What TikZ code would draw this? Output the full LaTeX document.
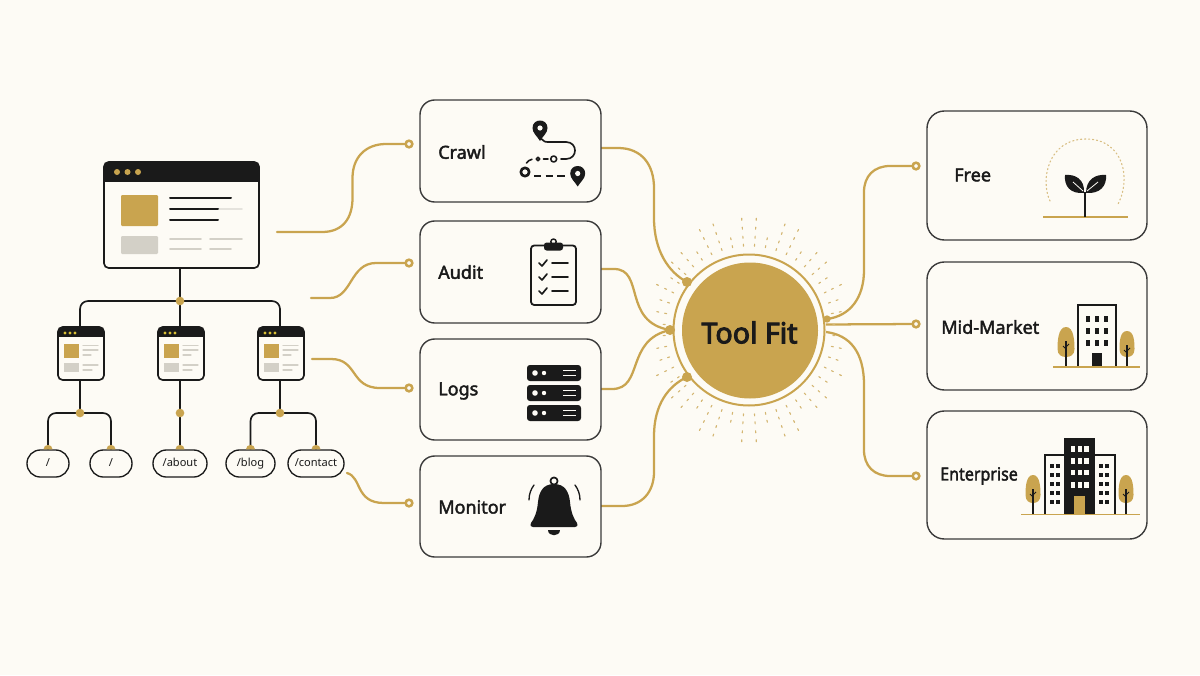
\documentclass[tikz,border=0pt]{standalone}
\usepackage{fontspec}
\usepackage{graphicx}
\setmainfont{Noto Sans}
\definecolor{paper}{HTML}{FDFBF5}
\definecolor{gold}{HTML}{C9A44F}
\definecolor{ink}{HTML}{1A1A1A}
\definecolor{edge}{HTML}{3A3A3A}
\definecolor{ash}{HTML}{D3D0C7}
% text with a thin outline of its own colour, for a medium weight
\newcommand{\weighted}[2]{\special{pdf:code 2 Tr #1 w}#2\special{pdf:code 0 Tr}}
\pgfdeclarelayer{under}
\pgfsetlayers{under,main}
\tikzset{
  x=0.75pt,y=-0.75pt,
  card/.style={draw=edge,line width=1.05pt,fill=paper,rounded corners=11pt,inner sep=0pt},
  cardtext/.style={anchor=west,inner sep=0pt,text=ink,font=\fontsize{13.5}{16}\selectfont},
  pill/.style={draw=ink,line width=1pt,fill=paper,rounded corners=10pt,minimum height=20.25pt,inner sep=0pt,text=ink,text height=6.2pt,text depth=1.8pt,font=\fontsize{8.3}{10}\selectfont},
  page/.style={draw=ink,line width=1.25pt,rounded corners=3.5pt,inner sep=0pt},
  tree line/.style={draw=ink,line width=1.25pt,rounded corners=6pt},
  gold line/.style={draw=gold,line width=1.7pt,line cap=round},
  hubdot/.style={circle,fill=gold,inner sep=0pt,minimum size=#1},
  socket/.style={circle,draw=gold,line width=1.9pt,fill=paper,inner sep=0pt,minimum size=5pt},
  bar/.style={line width=1.5pt,draw=ink,line cap=round},
  soft bar/.style={line width=1.4pt,draw=ash,line cap=round},
  icon/.style={draw=ink,line width=1.35pt,line cap=round,line join=round},
}
% small site page: header bar, three dots, two thumbnails and text rules
\newcommand{\smallpage}[2]{%
  \node[page,minimum width=34.5pt,minimum height=39.75pt,fill=paper] (#1) at (#2+23,353.5) {};
  \begin{scope}[shift={(#2,0)}]
    \begin{scope}
      \clip[rounded corners=3.5pt] (0,327) rectangle (46,380);
      \fill[ink] (0,327) rectangle (46,337);
    \end{scope}
    \fill[gold!70!yellow] (7,333) circle[radius=1.7] (12,333) circle[radius=1.7] (17,333) circle[radius=1.7];
    \fill[gold] (6,344) rectangle (21,358);
    \fill[ash] (6,363) rectangle (21,372);
    \draw[soft bar,line width=0.9pt] (25,345.5) -- (40,345.5) (25,350) -- (40,350) (25,355) -- (33,355)
      (25,365) -- (40,365) (25,370) -- (34,370);
  \end{scope}
}
% tree with a rounded crown and a forked trunk
\newcommand{\sapling}[5]{%
  \fill[gold] (#1,#2) .. controls (#1+0.95*#4,#2) and (#1+#4,#3-15) .. (#1+#4,#3-8)
    .. controls (#1+#4,#3-2) and (#1+0.5*#4,#3) .. (#1,#3)
    .. controls (#1-0.5*#4,#3) and (#1-#4,#3-2) .. (#1-#4,#3-8)
    .. controls (#1-#4,#3-15) and (#1-0.95*#4,#2) .. (#1,#2) -- cycle;
  \draw[ink,line width=1.1pt] (#1,#2+14) -- (#1,#5);
  \draw[ink,line width=0.7pt] (#1,#2+22) -- (#1-3,#2+19) (#1,#2+20) -- (#1+3,#2+17);
}
% map pin with a punched centre
\newcommand{\mappin}[2]{%
  \fill[ink] (#1-7.5,#2) .. controls (#1-7.5,#2-10) and (#1+7.5,#2-10) .. (#1+7.5,#2)
    .. controls (#1+7.5,#2+5) and (#1+3,#2+8) .. (#1,#2+13)
    .. controls (#1-3,#2+8) and (#1-7.5,#2+5) .. (#1-7.5,#2) -- cycle;
  \fill[paper] (#1,#2) circle[radius=2.6];
}
\newcommand{\rackunit}[1]{%
  \fill[ink,rounded corners=2.2pt] (527,#1) rectangle (581,#1+16);
  \fill[paper] (535,#1+8) circle[radius=2.8] (544,#1+8) circle[radius=2.2];
  \draw[paper,line width=0.9pt] (563,#1+5.5) -- (576,#1+5.5) (563,#1+10.5) -- (576,#1+10.5);
}
\newcommand{\tickrow}[1]{%
  \draw[icon,line width=1.25pt] (539,#1) -- (542,#1+3) -- (547,#1-3) (552,#1) -- (568,#1);
}
\begin{document}
\begin{tikzpicture}
\useasboundingbox (0,0) rectangle (1200,675);
\begin{pgfonlayer}{under}
  \fill[paper] (0,0) rectangle (1200,675);
\end{pgfonlayer}

% ---------- site tree ----------
\node[page,minimum width=116.25pt,minimum height=79.5pt,fill=paper] (home) at (181.5,215) {};
\begin{scope}
  \clip[rounded corners=3.5pt] (104,162) rectangle (259,268);
  \fill[ink] (104,162) rectangle (259,182);
\end{scope}
\fill[gold] (117,172) circle[radius=3] (127.5,172) circle[radius=3] (138,172) circle[radius=3];
\fill[gold,rounded corners=0.8pt] (121,195) rectangle (158,226);
\fill[ash,rounded corners=0.8pt] (121,236) rectangle (158,254);
\draw[soft bar,draw=ash!60] (218,209) -- (242,209);
\draw[bar] (170,198) -- (231,198) (170,209) -- (218,209) (170,220) -- (218,220);
\draw[soft bar] (170,239) -- (201,239) (210,239) -- (242,239) (170,249) -- (201,249) (210,249) -- (231,249);

\smallpage{pageA}{58}
\smallpage{pageB}{158}
\smallpage{pageC}{258}

\node[hubdot=6.5pt] (hubTop) at (180,301) {};
\node[hubdot=6.5pt] (hubA) at (80,413) {};
\node[hubdot=6.5pt] (hubB) at (180,413) {};
\node[hubdot=6.5pt] (hubC) at (280,413) {};

\node[pill,minimum width=31.5pt] (rootA) at (48,463.5) {/};
\node[pill,minimum width=31.5pt] (rootB) at (111,463.5) {/};
\node[pill,minimum width=40.5pt] (about) at (180,463.5) {/about};
\node[pill,minimum width=36.75pt] (blog) at (250.5,463.5) {/blog};
\node[pill,minimum width=42pt] (contact) at (316,463.5) {/contact};

% gold caps where the tree meets each pill
\foreach \target in {rootA,rootB,about,blog,contact}
  \fill[gold] (\target.north) +(-4.5,0) arc[start angle=180,end angle=360,radius=4.5] -- cycle;

\begin{pgfonlayer}{under}
  \draw[tree line] (hubTop |- home.south) -- (hubTop.center);
  \draw[tree line] (hubA |- pageA.north) |- (hubTop.center) -| (hubC |- pageC.north);
  \draw[tree line] (hubTop.center) -- (hubB |- pageB.north);
  \draw[tree line] (hubA |- pageA.south) -- (hubA.center);
  \draw[tree line] (hubB |- pageB.south) -- (hubB.center) -- (hubB |- about.north);
  \draw[tree line] (hubC |- pageC.south) -- (hubC.center);
  \draw[tree line] (rootA.north) |- (hubA.center) -| (rootB.north);
  \draw[tree line] (blog.north) |- (hubC.center) -| (contact.north);
\end{pgfonlayer}

% ---------- tool cards ----------
\node[card,minimum width=135.75pt,minimum height=76.5pt] (crawl) at (510.5,151) {};
\node[card,minimum width=135.75pt,minimum height=76.5pt] (audit) at (510.5,272) {};
\node[card,minimum width=135.75pt,minimum height=75.75pt] (logs) at (510.5,389.5) {};
\node[card,minimum width=135.75pt,minimum height=75.75pt] (monitor) at (510.5,506.5) {};
\node[cardtext] (crawlText) at (438,152) {\weighted{0.3}{Crawl}};
\node[cardtext] (auditText) at (438,272) {\weighted{0.3}{Audit}};
\node[cardtext] (logsText) at (438,391) {\weighted{0.3}{Logs}};
\node[cardtext] (monitorText) at (438,507) {\weighted{0.3}{Monitor}};

\node[socket] (crawlIn) at (409,144) {};
\node[socket] (auditIn) at (409,263) {};
\node[socket] (logsIn) at (409,388) {};
\node[socket] (monitorIn) at (409,503) {};

% route icon
\mappin{540}{128}
\mappin{577.7}{173.5}
\draw[icon,line width=1.25pt] (541.5,139) .. controls (543,142) and (546,142) .. (550,142) -- (566,142)
  .. controls (578,142) and (578,159) .. (566,159) -- (561,159);
\draw[icon,line width=1.2pt] (526.5,163) .. controls (527.5,161) and (529.5,160) .. (532,159.3);
\draw[icon,line width=1.2pt] (543.5,159) -- (548,159);
\draw[icon,line width=1.2pt] (553.7,159) circle[radius=3];
\draw[icon,line width=1.2pt] (538,159) circle[radius=1.8];
\draw[icon,line width=2pt] (525,172) circle[radius=4.2];
\draw[icon,line width=1.25pt,dash pattern=on 5.5pt off 3.2pt,line cap=butt] (534,176) -- (567,176);

% clipboard icon
\draw[icon,rounded corners=2.4pt] (531,245.5) rectangle (576,305);
\draw[icon,line width=1.1pt] (553.5,241.7) circle[radius=2.7];
\fill[ink,rounded corners=2pt] (544,242.5) rectangle (563,250.5);
\tickrow{263}
\tickrow{277}
\tickrow{291}

% server rack icon
\rackunit{365}
\rackunit{385}
\rackunit{405}

% bell icon
\draw[icon,line width=1.3pt] (554,481) circle[radius=3.6];
\fill[ink] (554,484) .. controls (543,484) and (539,492) .. (538,502)
  .. controls (537,513) and (534,519) .. (531,523)
  .. controls (530,526) and (531,527) .. (533,527) -- (575,527)
  .. controls (577,527) and (578,526) .. (577,523)
  .. controls (574,519) and (571,513) .. (570,502)
  .. controls (569,492) and (565,484) .. (554,484) -- cycle;
\fill[ink] (548,530) -- (560,530) .. controls (560,537) and (548,537) .. (548,530) -- cycle;
\draw[icon,line width=1pt] (529,500) .. controls (529,494) and (531,489) .. (534,485);
\draw[icon,line width=1pt] (580,500) .. controls (580,494) and (578,489) .. (575,485);

% ---------- central disc ----------
\foreach \i in {0,...,47}{
  \pgfmathsetmacro{\ang}{\i*7.5+3.75}
  \pgfmathsetmacro{\reach}{90+26*abs(sin(\ang))}
  \pgfmathtruncatemacro{\lvl}{mod(\i,3)}
  \foreach \rr/\keep in {84/0,92/0,101/1,110/1}{
    \pgfmathtruncatemacro{\show}{(\rr<=\reach) && ((\keep==0) || (\keep==1 && \lvl!=1)) ? 1 : 0}
    \ifnum\show=1
      \draw[gold!80,line width=0.85pt,line cap=round]
        ({749+\rr*cos(\ang)},{330+\rr*sin(\ang)}) -- ({749+(\rr+2)*cos(\ang)},{330+(\rr+2)*sin(\ang)});
    \fi
  }
}
\fill[paper] (749,330) circle[radius=77];
\draw[gold,line width=1.5pt] (749,330) circle[radius=75.5];
\node[circle,fill=gold,minimum size=102pt,inner sep=0pt] (fit) at (750,330.5) {};
\node[inner sep=0pt,text=ink,font=\fontsize{21.5}{26}\selectfont] (fitText) at (749.5,332.5) {\weighted{0.75}{Tool Fit}};

\node[hubdot=7.5pt] (fitCrawl) at (687,282) {};
\node[hubdot=7.5pt] (fitAudit) at (670,330) {};
\node[hubdot=7.5pt] (fitMonitor) at (687,377) {};
\node[hubdot=5.5pt] (fitFree) at (827,319) {};

\coordinate (crawlOut) at (601,148);
\coordinate (auditOut) at (601,269);
\coordinate (logsOut) at (601,389);
\coordinate (monitorOut) at (601,506);
\coordinate (fitMid) at (826,324.5);
\coordinate (fitEnt) at (826,332);

% ---------- plan cards ----------
\node[card,rounded corners=13pt,minimum width=165pt,minimum height=96.75pt] (free) at (1037,175.5) {};
\node[card,rounded corners=13pt,minimum width=165pt,minimum height=96pt] (mid) at (1037,326) {};
\node[card,rounded corners=13pt,minimum width=165pt,minimum height=96pt] (enterprise) at (1037,475) {};
\node[cardtext] (freeText) at (954,175) {\weighted{0.3}{Free}};
\node[cardtext] (midText) at (941,327) {\weighted{0.3}{Mid-Market}};
\node[cardtext] (entText) at (940,476) {\scalebox{0.89}[1]{\weighted{0.3}{Enterprise}}};

\node[socket] (freeIn) at (916,166) {};
\node[socket] (midIn) at (916,324) {};
\node[socket] (entIn) at (916,476) {};

% sprout icon
\draw[gold!70,line width=0.85pt,dash pattern=on 0.9pt off 2.1pt,line cap=round]
  (1050,201) .. controls (1040,180) and (1048,139) .. (1086,139)
  .. controls (1124,139) and (1132,180) .. (1117,206);
\draw[gold,line width=1.4pt] (1043,217) -- (1128,217);
\draw[ink,line width=1.5pt] (1085,217) -- (1085,192);
\fill[ink] (1084,193) .. controls (1070,194) and (1064,186) .. (1065,175)
  .. controls (1075,174) and (1085,179) .. (1084,193) -- cycle;
\fill[ink] (1086,193) .. controls (1100,194) and (1107,186) .. (1106,175)
  .. controls (1096,174) and (1086,179) .. (1086,193) -- cycle;
\draw[paper,line width=0.6pt] (1073,182) -- (1083,191) (1098,182) -- (1087,191);

% mid-size building icon
\sapling{1066}{327}{357}{8.5}{367}
\sapling{1127}{331}{357}{7.5}{367}
\draw[ink,line width=1.3pt,fill=paper] (1078,367) -- (1078,305) -- (1116,305) -- (1116,367);
\foreach \wy in {319,331,343}
  \foreach \wx in {1088,1097,1106}
    \fill[ink] (\wx-2,\wy-3) rectangle (\wx+2,\wy+3);
\fill[ink] (1092,353) rectangle (1102,366);
\draw[gold,line width=1.3pt] (1053,367) -- (1140,367);

% large campus icon
\sapling{1033}{475}{503}{7.5}{514}
\sapling{1126}{475}{503}{7.5}{514}
\draw[ink,line width=1.2pt,fill=paper] (1045,514) -- (1045,455) -- (1115,455) -- (1115,514);
\fill[ink] (1064,438) rectangle (1095,514);
\foreach \wy in {449,461,472.5,485}
  \foreach \wx in {1073,1080,1086.5}
    \fill[paper] (\wx-2.3,\wy-2.8) rectangle (\wx+2.3,\wy+2.8);
\foreach \wy in {466,475,484,493,502}
  \foreach \wx in {1052,1058,1101,1107}
    \fill[ink] (\wx-2,\wy-2.2) rectangle (\wx+2,\wy+2.2);
\fill[gold] (1074,496) rectangle (1085,514);
\draw[gold,line width=1.3pt] (1021,514.5) -- (1140,514.5);

% ---------- gold connectors ----------
\coordinate (homeOut) at (277,232);
\coordinate (pageOutA) at (311,298);
\coordinate (pageOutC) at (312,359);
\coordinate (contactOut) at (347,473);
\begin{pgfonlayer}{under}
  \draw[gold line] (homeOut) -- (322,232) .. controls (343,232) and (352.5,218) .. (352.5,198)
    -- (352.5,178) .. controls (352.5,157) and (366,144) .. (386,144) -- (crawlIn);
  \draw[gold line] (pageOutA) -- (330,298) .. controls (352,298) and (350,263) .. (376,263) -- (auditIn);
  \draw[gold line] (pageOutC) -- (331,359) .. controls (358,359) and (350,388) .. (380,388) -- (logsIn);
  \draw[gold line] (contactOut) .. controls (362,477) and (355,503) .. (384,503) -- (monitorIn);

  \draw[gold line] (crawlOut) -- (618,148) .. controls (642,148) and (654,165) .. (654,188) -- (654,218)
    .. controls (654,250) and (668,272) .. (fitCrawl.center);
  \draw[gold line] (auditOut) -- (614,269) .. controls (645,269) and (622,322) .. (fitAudit.center);
  \draw[gold line] (logsOut) -- (612,389) .. controls (644,389) and (625,340) .. (fitAudit.center);
  \draw[gold line] (monitorOut) -- (622,506) .. controls (642,506) and (654,492) .. (654,472) -- (654,436)
    .. controls (654,405) and (668,386) .. (fitMonitor.center);

  \draw[gold line] (fitFree.center) .. controls (850,316) and (864,298) .. (864,270) -- (864,192)
    .. controls (864,176) and (874,166) .. (890,166) -- (freeIn);
  \draw[gold line] (fitMid) -- (midIn);
  \draw[gold line] (fitEnt) .. controls (850,335) and (864,352) .. (864,385) -- (864,450)
    .. controls (864,466) and (874,476) .. (890,476) -- (entIn);
\end{pgfonlayer}
\end{tikzpicture}
\end{document}
